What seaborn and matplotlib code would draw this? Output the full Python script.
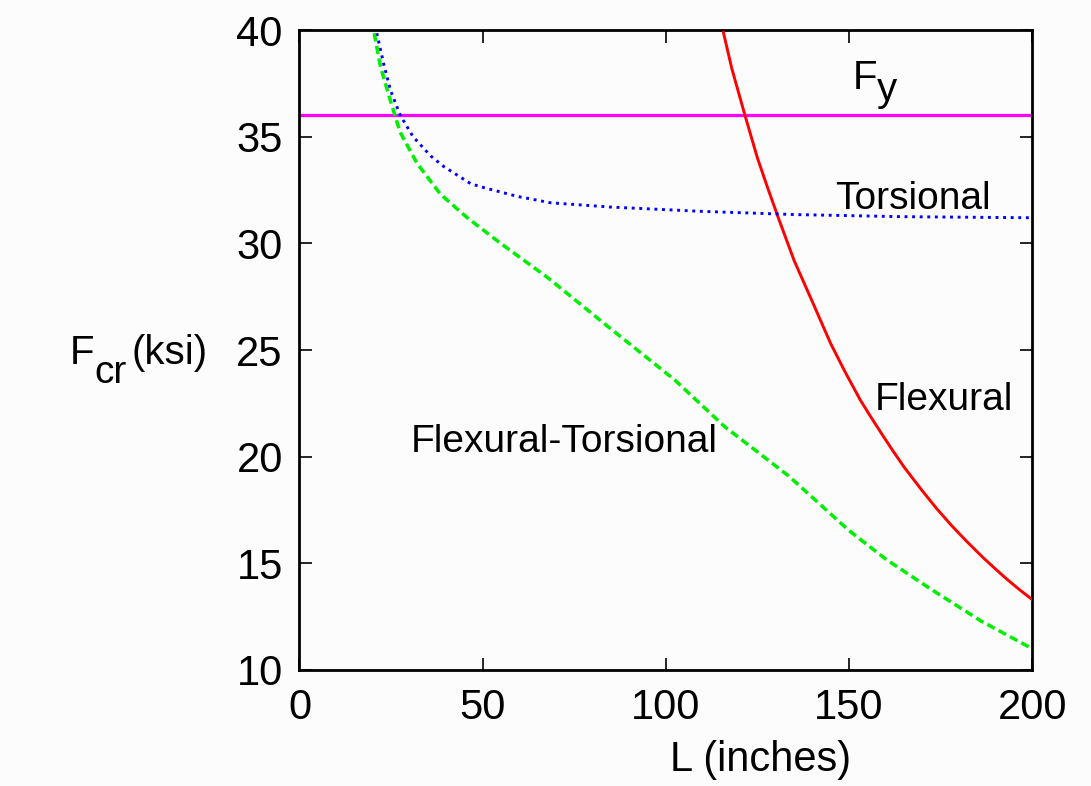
import numpy as np
import pandas as pd
import matplotlib
matplotlib.use("Agg")
import matplotlib.pyplot as plt
import seaborn as sns

# values (L in inches, Fcr in ksi)
flex_L = [115.7, 118, 121.6, 125, 128, 130.7, 135, 139.9, 145, 149, 153.1, 156, 159, 162, 165, 170,
          174, 178, 182, 186.4, 190, 193, 196.5, 200]
flex_F = [39.9, 38.2, 36.0, 34.0, 32.5, 31.2, 29.2, 27.3, 25.3, 23.95, 22.65, 21.85, 21.05, 20.27, 19.52, 18.4,
          17.55, 16.77, 16.05, 15.3, 14.73, 14.27, 13.77, 13.3]

tors_L = [21.1, 23, 24.8, 27.5, 31, 35.8, 39.4, 46.7, 49.5, 59.5, 68.6, 85, 109.7, 135, 164.5, 200]
tors_F = [39.85, 38.4, 37.2, 36.0, 35.0, 34.1, 33.6, 32.8, 32.65, 32.2, 31.9, 31.7, 31.5, 31.35, 31.25, 31.2]

ft_L = [20.4, 22.1, 24.8, 27.5, 32.1, 38.5, 45.8, 54.9, 67.7, 84.2, 102.4, 116.1, 133.5, 149.9, 160,
        172.7, 186, 200]
ft_F = [39.85, 38.3, 36.7, 35.2, 33.75, 32.3, 31.2, 30.0, 28.4, 26.1, 23.6, 21.4, 19.1, 16.55, 15.2,
        13.75, 12.3, 11.0]

Fy = 36.0
x_ticks = [0, 50, 100, 150, 200]
y_ticks = [10, 15, 20, 25, 30, 35, 40]

sns.set_theme(style="ticks")
plt.rcParams["font.family"] = ["Liberation Sans", "DejaVu Sans"]
plt.rcParams["text.color"] = "black"
plt.rcParams["xtick.color"] = "black"
plt.rcParams["ytick.color"] = "black"
plt.rcParams["axes.labelcolor"] = "black"

W, H = 1091, 786
bg = "#fcfcfc"
fig = plt.figure(figsize=(W / 100, H / 100), dpi=100, facecolor=bg)
ax = fig.add_axes([0.2745, 0.1476, 0.6716, 0.8142])
ax.set_facecolor(bg)

df_flex = pd.DataFrame({"L": flex_L, "F": flex_F})
df_tors = pd.DataFrame({"L": tors_L, "F": tors_F})
df_ft = pd.DataFrame({"L": ft_L, "F": ft_F})

ax.axhline(Fy, color="#ff00ff", lw=2.3, zorder=2)
sns.lineplot(data=df_flex, x="L", y="F", ax=ax, color="#ff0000", lw=2.1, zorder=3)
sns.lineplot(data=df_tors, x="L", y="F", ax=ax, color="#0000ff", lw=2.1, zorder=3,
             linestyle=(0, (1.0, 1.6)))
sns.lineplot(data=df_ft, x="L", y="F", ax=ax, color="#00ee00", lw=2.5, zorder=3,
             linestyle=(0, (2.4, 1.3)))

ax.set_xlim(0, 200)
ax.set_ylim(10, 40)
ax.set_xticks(x_ticks)
ax.set_yticks(y_ticks)
ax.tick_params(direction="in", length=9, width=1.2, labelsize=30, colors="black",
               top=True, right=True, pad=12)
ax.tick_params(axis="x", pad=13)
for s in ax.spines.values():
    s.set_linewidth(2.0)
    s.set_color("black")

ax.set_xlabel("L (inches)", fontsize=30, va="center")
ax.xaxis.set_label_coords(0.629, -0.14)
ax.set_ylabel("")


def px_text(x, y, s, size):
    # place text by pixel position (left edge, baseline) in the figure
    fig.text(x / W, 1 - y / H, s, fontsize=size, ha="left", va="baseline", color="black")


# y axis label: F with a lowered "cr", then (ksi)
px_text(70, 364, "F", 29)
px_text(94, 383, "cr", 28)
px_text(132, 364, "(ksi)", 29)

# F_y label
px_text(853, 89, "F", 29)
px_text(877, 101, "y", 29)

lbl = dict(fontsize=28, ha="center", va="center", color="black")
ax.text(167.5, 32.1, "Torsional", **lbl)
ax.text(176, 22.65, "Flexural", **lbl)
ax.text(72.2, 20.7, "Flexural-Torsional", **lbl)

fig.savefig("out.png", dpi=100, facecolor=bg)
